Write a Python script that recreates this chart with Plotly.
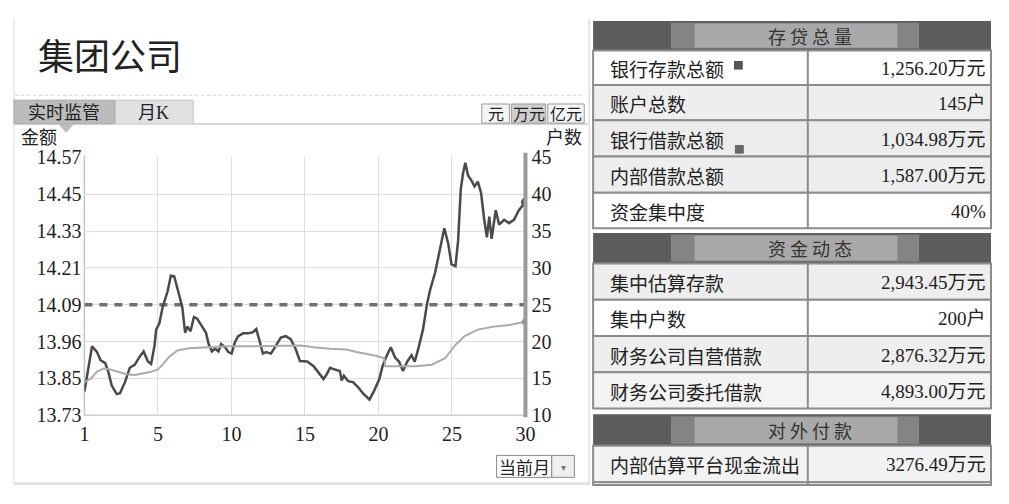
import plotly.graph_objects as go

# The page body keeps the browser's 8px margin, so the figure is sized to fill
# the 1009x504 window exactly inside that margin; every shape stays inside it.
PAGE_W, PAGE_H, BODY_M = 1009, 504, 8
W, H = PAGE_W - 2 * BODY_M, PAGE_H - 2 * BODY_M
XMAX, YMAX = PAGE_W - BODY_M, PAGE_H - BODY_M
SERIF = "Liberation Serif, Noto Sans CJK SC, serif"
CJK = "Noto Sans CJK SC, sans-serif"

# ---------------- data ----------------
amount_days = [0.00, 0.52, 0.86, 1.09, 1.42, 1.64, 1.86, 2.20, 2.42, 2.76,
               3.09, 3.43, 3.76, 4.03, 4.32, 4.54, 4.77, 4.88, 5.10, 5.32,
               5.66, 5.88, 6.11, 6.44, 6.66, 6.85, 7.00, 7.22, 7.45, 7.67,
               8.00, 8.27, 8.45, 8.67, 8.89, 9.12, 9.30, 9.56, 9.79, 10.01,
               10.23, 10.46, 10.80, 11.13, 11.47, 11.69, 11.91, 12.14, 12.36, 12.69,
               13.03, 13.36, 13.70, 14.03, 14.36, 14.66, 15.15, 15.59, 15.93, 16.26,
               16.49, 16.71, 17.05, 17.38, 17.50, 17.65, 17.94, 18.27, 18.61, 18.94,
               19.39, 19.73, 20.06, 20.28, 20.51, 20.84, 21.13, 21.40, 21.67, 21.96,
               22.25, 22.47, 22.74, 23.03, 23.30, 23.52, 23.86, 24.19, 24.48, 24.75,
               24.97, 25.24, 25.42, 25.60, 25.75, 25.91, 26.09, 26.31, 26.54, 26.76,
               26.98, 27.21, 27.38, 27.54, 27.70, 27.98, 28.21, 28.55, 28.88, 29.22,
               29.55, 30.00]
amount_values = [13.807, 13.955, 13.936, 13.910, 13.900, 13.869, 13.827, 13.799, 13.802, 13.838,
                 13.885, 13.895, 13.921, 13.938, 13.905, 13.897, 13.957, 14.009, 14.030, 14.082,
                 14.134, 14.185, 14.183, 14.123, 14.082, 13.999, 14.019, 14.004, 14.050, 14.045,
                 14.019, 13.999, 13.962, 13.938, 13.947, 13.938, 13.962, 13.952, 13.936, 13.931,
                 13.967, 13.988, 13.997, 13.997, 14.001, 14.011, 13.973, 13.931, 13.936, 13.931,
                 13.957, 13.983, 13.988, 13.978, 13.947, 13.907, 13.905, 13.890, 13.869, 13.848,
                 13.864, 13.885, 13.879, 13.874, 13.843, 13.859, 13.841, 13.838, 13.822, 13.802,
                 13.781, 13.812, 13.848, 13.890, 13.918, 13.952, 13.918, 13.905, 13.874, 13.905,
                 13.926, 13.905, 13.952, 14.009, 14.092, 14.139, 14.196, 14.268, 14.339, 14.289,
                 14.222, 14.216, 14.299, 14.465, 14.517, 14.553, 14.512, 14.496, 14.476, 14.491,
                 14.455, 14.362, 14.310, 14.377, 14.305, 14.398, 14.351, 14.367, 14.356, 14.367,
                 14.398, 14.424]

household_days = [0.00, 0.42, 0.86, 1.31, 1.75, 2.31, 2.87, 3.43, 3.99, 4.54,
                  4.99, 5.32, 5.77, 6.33, 7.11, 8.23, 9.79, 11.13, 13.14, 14.70,
                  15.59, 16.71, 17.83, 18.50, 19.84, 20.39, 20.46, 21.40, 22.52, 23.63,
                  24.53, 25.30, 25.87, 26.76, 27.88, 28.99, 30.00]
household_values = [14.50, 14.93, 15.92, 16.35, 16.22, 15.92, 15.57, 15.48, 15.66, 15.92,
                    16.22, 16.87, 17.95, 18.81, 19.11, 19.24, 19.37, 19.37, 19.46, 19.46,
                    19.24, 19.03, 18.94, 18.59, 18.08, 17.74, 16.65, 16.65, 16.65, 16.87,
                    17.74, 19.68, 20.76, 21.63, 22.06, 22.28, 22.70]

reference_amount = 14.09

amount_ticks = [13.73, 13.85, 13.97, 14.09, 14.21, 14.33, 14.45, 14.57]
amount_tick_labels = ["13.73", "13.85", "13.96", "14.09", "14.21", "14.33", "14.45", "14.57"]
household_ticks = [10, 15, 20, 25, 30, 35, 40, 45]
day_ticks = [0, 5, 10, 15, 20, 25, 30]
day_tick_labels = ["1", "5", "10", "15", "20", "25", "30"]

title_text = "集团公司"
tab_labels = ["实时监管", "月K"]
unit_labels = ["元", "万元", "亿元"]
left_axis_title = "金额"
right_axis_title = "户数"
period_label = "当前月"

section_titles = ["存 贷 总 量", "资 金 动 态", "对 外 付 款"]
section1_labels = ["银行存款总额", "账户总数", "银行借款总额", "内部借款总额", "资金集中度"]
section1_values = ["1,256.20万元", "145户", "1,034.98万元", "1,587.00万元", "40%"]
section2_labels = ["集中估算存款", "集中户数", "财务公司自营借款", "财务公司委托借款"]
section2_values = ["2,943.45万元", "200户", "2,876.32万元", "4,893.00万元"]
section3_labels = ["内部估算平台现金流出", ""]
section3_values = ["3276.49万元", ""]

# ---------------- helpers (page pixel -> paper) ----------------
def cx(x):
    return min(max(x, BODY_M), XMAX)

def cy(y):
    return min(max(y, BODY_M), YMAX)

def px(x):
    return (cx(x) - BODY_M) / W

def py(y):
    return 1 - (cy(y) - BODY_M) / H

shapes = []
annotations = []

def rect(x0, y0, x1, y1, fill=None, line=None, lw=1):
    shapes.append(dict(type="rect", xref="paper", yref="paper",
                       x0=px(x0), x1=px(x1), y0=py(y1), y1=py(y0),
                       fillcolor=fill if fill else "rgba(0,0,0,0)",
                       line=dict(color=line if line else "rgba(0,0,0,0)", width=lw if line else 0),
                       layer="below"))

def hline(x0, x1, y, color, lw=1, dash=None, layer="below"):
    d = dict(type="line", xref="paper", yref="paper", x0=px(x0), x1=px(x1),
             y0=py(y), y1=py(y), line=dict(color=color, width=lw), layer=layer)
    if dash:
        d["line"]["dash"] = dash
    shapes.append(d)

def vline(x, y0, y1, color, lw=1, layer="below"):
    shapes.append(dict(type="line", xref="paper", yref="paper", x0=px(x), x1=px(x),
                       y0=py(y0), y1=py(y1), line=dict(color=color, width=lw), layer=layer))

def text(x, y, s, size=18, color="#222", family=CJK, xanchor="left"):
    annotations.append(dict(x=px(x), y=py(y), xref="paper", yref="paper", text=s,
                            showarrow=False, xanchor=xanchor, yanchor="middle",
                            font=dict(size=size, color=color, family=family)))

# ---------------- left panel decorations ----------------
vline(9, 8, 496, "#dcdcdc", 1)
vline(593, 8, 496, "#cfcfcf", 1)
hline(10, 590, 88, "#d6d6d6", 1, dash="dot")
rect(9, 493, 593, 496, fill="#e2e2e2")

# tabs
rect(9, 93, 111, 118, fill="#bcbcbc", line="#a8a8a8", lw=1)
rect(112, 93, 191, 118, fill="#e1e1e1", line="#c6c6c6", lw=1)
shapes.append(dict(type="path", xref="paper", yref="paper",
                   path=f"M {px(54)} {py(118)} L {px(70)} {py(118)} L {px(62)} {py(127)} Z",
                   fillcolor="#bcbcbc", line=dict(width=0), layer="below"))
hline(191, 592, 118, "#c8c8c8", 1.5)
text(60, 106, tab_labels[0], size=18, color="#222", family=SERIF, xanchor="center")
text(151, 106, tab_labels[1], size=18, color="#222", family=SERIF, xanchor="center")

# unit buttons
unit_boxes = [(484, 512), (514, 549), (551, 588)]
unit_fills = ["#f4f4f4", "#cfcfcf", "#f4f4f4"]
for (a, b), f, lab in zip(unit_boxes, unit_fills, unit_labels):
    rect(a, 97, b, 117, fill=f, line="#9a9a9a", lw=1)
    text((a + b) / 2, 107.5, lab, size=16, color="#222", family=SERIF, xanchor="center")

# title and axis titles
text(31, 45, title_text, size=36, color="#222", family=CJK)
text(14, 131, left_axis_title, size=18, color="#222", family=CJK)
text(588, 131, right_axis_title, size=18, color="#222", family=CJK, xanchor="right")

# plot frame extras
X0, X1, Y0, Y1 = 80.5, 528.3, 153, 423
vline(X0, Y0 - 2, Y1 + 1, "#c4c4c4", 1.5)
hline(X0, X1, Y1, "#cfcfcf", 1.5)
vline(X1, Y0 - 5, Y1 + 2, "#9a9a9a", 4, layer="above")

# period dropdown
rect(499, 465, 555, 488, fill="#ffffff", line="#8a8a8a", lw=1)
rect(555, 465, 578, 488, fill="#efefef", line="#8a8a8a", lw=1)
text(527, 476.5, period_label, size=17, color="#222", family=CJK, xanchor="center")
text(566.5, 476.5, "▾", size=10, color="#777", family=CJK, xanchor="center")

# ---------------- right panel (table) ----------------
TX0, TX1, TDIV = 597, XMAX, 815

def header(y0, y1, title):
    rect(TX0, y0, TX1, y1, fill="#5c5c5c")
    rect(676, y0 + 2, 928, y1 - 2, fill="#848484")
    rect(700, y0 + 3, 906, y1 - 3, fill="#a9a9a9")
    text(TDIV + 2, (y0 + y1) / 2, title, size=18, color="#333", family=CJK, xanchor="center")

def rows(bounds, labels, values, fills):
    for i, (lab, val) in enumerate(zip(labels, values)):
        ya, yb = bounds[i], bounds[i + 1]
        rect(TX0, ya, TX1, yb, fill=fills[i], line="#8c8c8c", lw=2)
        vline(TDIV, ya, yb, "#8c8c8c", 2)
        if lab:
            text(612, (ya + yb) / 2 + 1, lab, size=19, color="#222", family=CJK)
        if val:
            text(998, (ya + yb) / 2 + 1, val, size=19, color="#222", family=SERIF, xanchor="right")

header(10, 41, section_titles[0])
rows([41, 77, 114, 152, 190, 227], section1_labels, section1_values,
     ["#ffffff", "#eeeeee", "#ececec", "#eeeeee", "#ffffff"])
header(232, 264, section_titles[1])
rows([264, 302, 340, 378, 416], section2_labels, section2_values,
     ["#eeeeee", "#ffffff", "#eeeeee", "#f3f3f3"])
header(422, 455, section_titles[2])
rows([455, 493, YMAX], section3_labels, section3_values, ["#f2f2f2", "#ffffff"])

# small squares next to two labels
rect(740, 52, 749, 61, fill="#555555")
rect(741, 140, 750, 149, fill="#666666")

# ---------------- chart traces ----------------
fig = go.Figure()
fig.add_trace(go.Scatter(x=[0, 30], y=[reference_amount, reference_amount], mode="lines",
                         line=dict(color="#6e6e6e", width=3.5, dash="8px,7px"),
                         hoverinfo="skip", showlegend=False))
fig.add_trace(go.Scatter(x=household_days, y=household_values, yaxis="y2", mode="lines",
                         line=dict(color="#ababab", width=2), showlegend=False))
fig.add_trace(go.Scatter(x=household_days[-1:], y=household_values[-1:], yaxis="y2", mode="markers",
                         marker=dict(color="#8a8a8a", size=7), showlegend=False))
fig.add_trace(go.Scatter(x=amount_days, y=amount_values, mode="lines",
                         line=dict(color="#4a4a4a", width=2.5), showlegend=False))
fig.add_trace(go.Scatter(x=amount_days[-1:], y=amount_values[-1:], mode="markers",
                         marker=dict(color="#505050", size=9), showlegend=False))

tickfont = dict(family="Liberation Serif, serif", size=20, color="#222")
fig.update_layout(
    width=W, height=H, margin=dict(l=0, r=0, t=0, b=0, pad=0),
    paper_bgcolor="white", plot_bgcolor="white",
    xaxis=dict(domain=[px(X0), px(X1)], range=[0, 30], tickvals=day_ticks, ticktext=day_tick_labels,
               showgrid=True, gridcolor="#dddddd", gridwidth=1, zeroline=False, showline=False,
               ticks="", tickfont=tickfont, ticklabelstandoff=5, fixedrange=True),
    yaxis=dict(domain=[py(Y1), py(Y0)], range=[13.73, 14.57], tickvals=amount_ticks,
               ticktext=amount_tick_labels, showgrid=True, gridcolor="#dddddd", gridwidth=1,
               zeroline=False, showline=False, ticks="", tickfont=tickfont, ticklabelstandoff=2,
               fixedrange=True),
    yaxis2=dict(overlaying="y", side="right", anchor="x", range=[10, 45], tickvals=household_ticks,
                showgrid=False, zeroline=False, showline=False, ticks="", tickfont=tickfont,
                ticklabelstandoff=5, fixedrange=True),
    shapes=shapes, annotations=annotations, showlegend=False,
)

fig.write_html("out.html", config=dict(displayModeBar=False, responsive=False))
